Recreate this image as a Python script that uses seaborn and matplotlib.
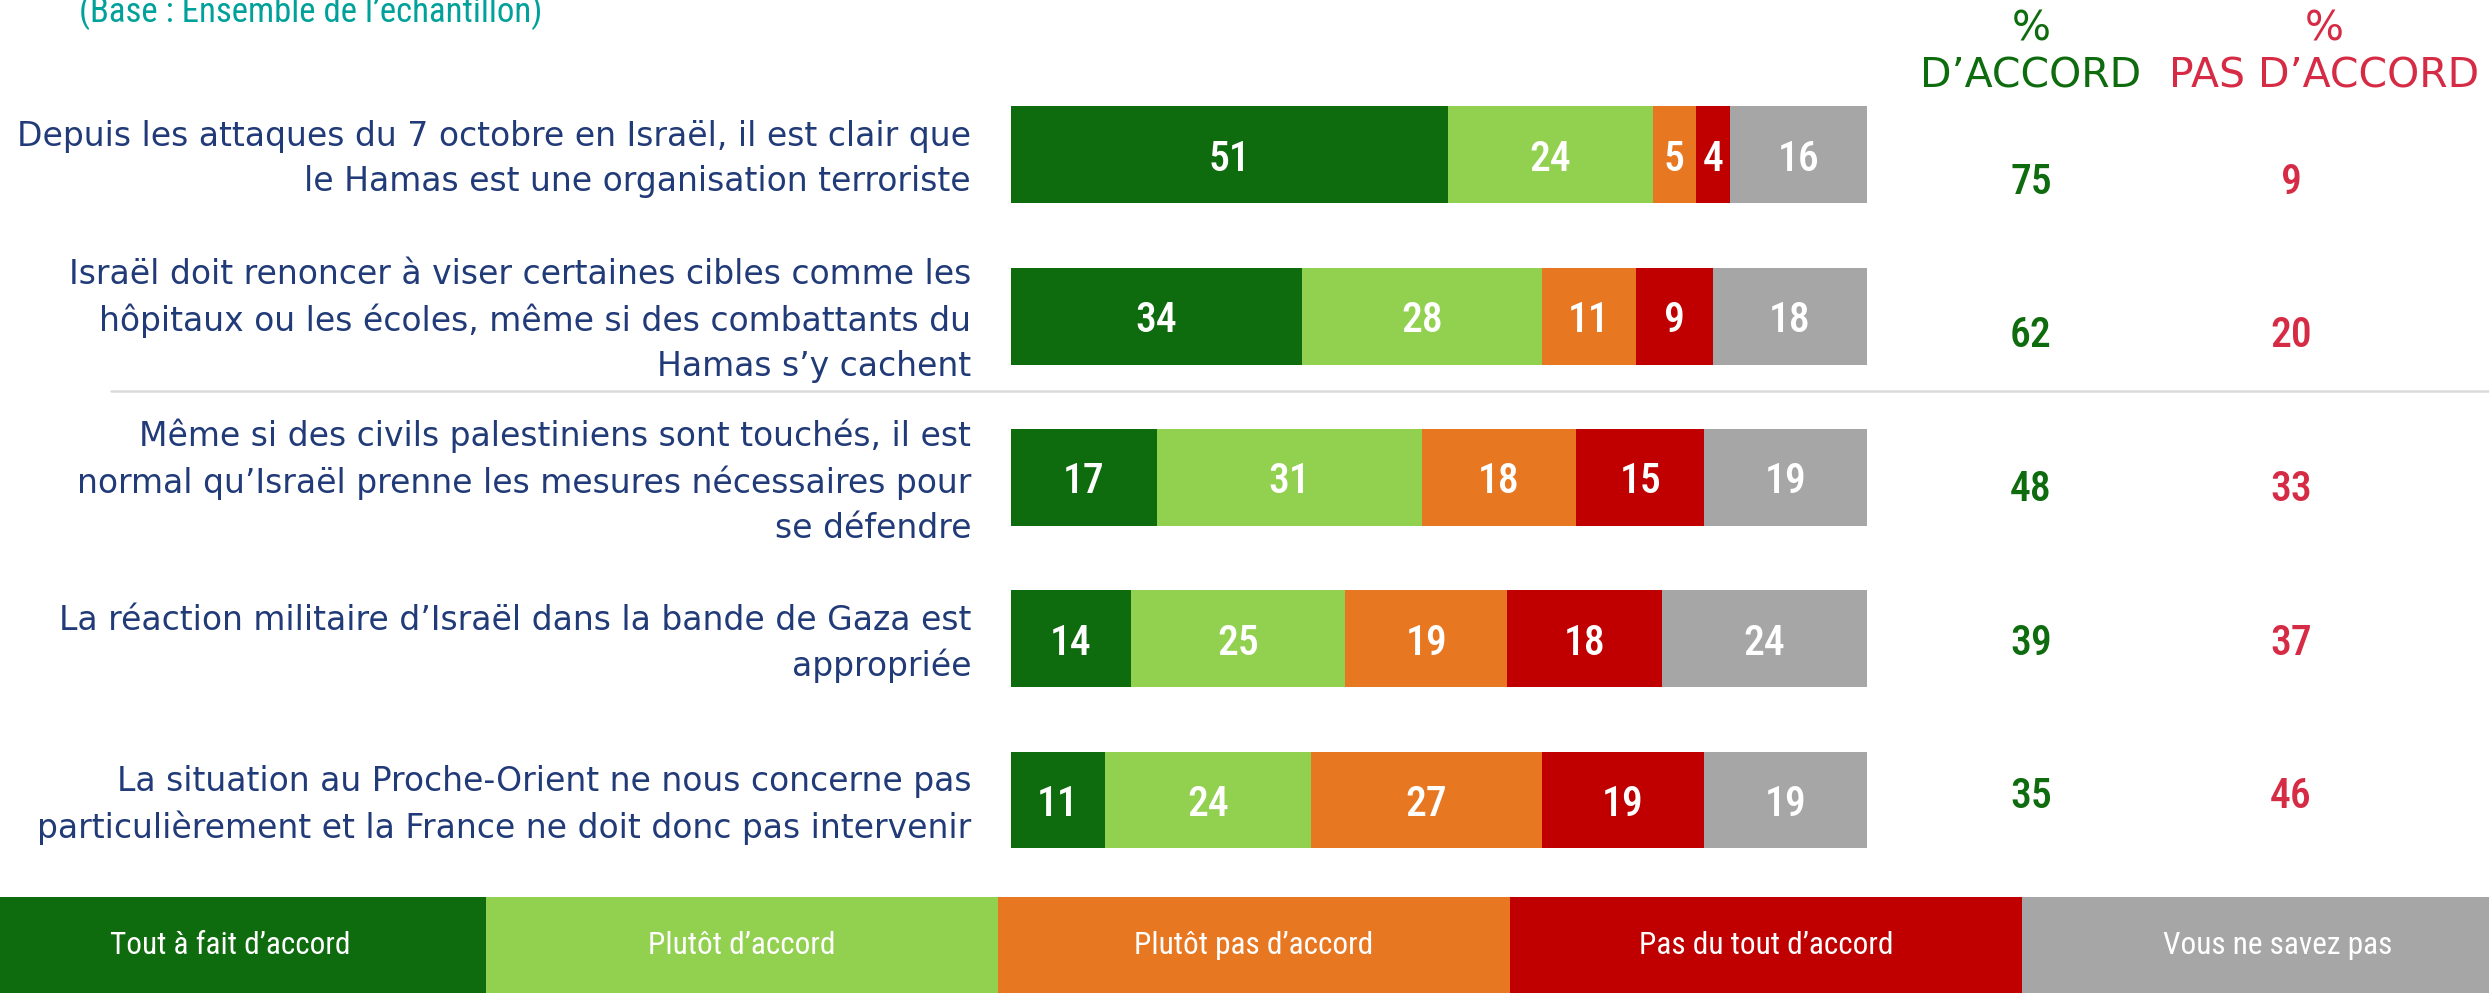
import matplotlib
matplotlib.use("Agg")
import matplotlib.pyplot as plt
import seaborn as sns
import numpy as np
import pandas as pd
from matplotlib.patches import Rectangle
from matplotlib.lines import Line2D
from matplotlib.transforms import ScaledTranslation

# ---------------- data ----------------
statements = [
    "Depuis les attaques du 7 octobre en Israël, il est clair que\nle Hamas est une organisation terroriste",
    "Israël doit renoncer à viser certaines cibles comme les\nhôpitaux ou les écoles, même si des combattants du\nHamas s’y cachent",
    "Même si des civils palestiniens sont touchés, il est\nnormal qu’Israël prenne les mesures nécessaires pour\nse défendre",
    "La réaction militaire d’Israël dans la bande de Gaza est\nappropriée",
    "La situation au Proche-Orient ne nous concerne pas\nparticulièrement et la France ne doit donc pas intervenir",
]
series_names = ["Tout à fait d’accord", "Plutôt d’accord", "Plutôt pas d’accord",
                "Pas du tout d’accord", "Vous ne savez pas"]
tout_a_fait = [51, 34, 17, 14, 11]
plutot = [24, 28, 31, 25, 24]
plutot_pas = [5, 11, 18, 19, 27]
pas_du_tout = [4, 9, 15, 18, 19]
ne_sait_pas = [16, 18, 19, 24, 19]
total_accord = [75, 62, 48, 39, 35]
total_pas_accord = [9, 20, 33, 37, 46]
header_accord = "%\nD’ACCORD"
header_pas = "%\nPAS D’ACCORD"
base_text = "(Base : Ensemble de l’échantillon)"

colors = ["#0E6B0E", "#92D050", "#E87722", "#C00000", "#A6A6A6"]
navy = "#213A78"
green_txt = "#0E6B0E"
red_txt = "#D62B45"

# ---------------- fonts ----------------
sns.set_theme(style="white")
plt.rcParams["font.family"] = ["Roboto Condensed", "DejaVu Sans"]
txt_font = dict(family=["DejaVu Sans"])

W, H = 2489, 993
fig = plt.figure(figsize=(W / 100, H / 100), dpi=100)

# ---------------- stacked bars ----------------
vals = np.array([tout_a_fait, plutot, plutot_pas, pas_du_tout, ne_sait_pas])
cum = np.cumsum(vals, axis=0)

ax = fig.add_axes([1011 / W, 1 - 880.7 / H, 856 / W, 806.5 / H])
for j in reversed(range(len(series_names))):
    sns.barplot(x=cum[j], y=statements, orient="h", color=colors[j], saturation=1,
                width=0.6, ax=ax, linewidth=0, errorbar=None)
for j in range(len(series_names)):
    for i in range(len(statements)):
        ax.text(cum[j][i] - vals[j][i] / 2, i, str(vals[j][i]), ha="center",
                va="center_baseline", color="white", fontsize=30, fontweight="medium")
ax.set_xlim(0, 100)
ax.set_ylim(len(statements) - 0.5, -0.5)
ax.set_xticks([])
ax.set_xlabel("")
ax.set_ylabel("")
ax.set_yticks(range(len(statements)))
ax.set_yticklabels(statements, fontsize=23.8, color=navy, linespacing=1.45, **txt_font)
ax.tick_params(axis="y", length=0, pad=28.8)
shift_up = ScaledTranslation(0, 5 / 100, fig.dpi_scale_trans)
for lbl in ax.get_yticklabels():
    lbl.set_transform(lbl.get_transform() + shift_up)
for s in ax.spines.values():
    s.set_visible(False)
ax.set_facecolor("none")

# ---------------- totals columns ----------------
ax2 = fig.add_axes([1901 / W, 1 - 869 / H, 520 / W, 768 / H])
ax2.set_xlim(-0.5, 1.5)
ax2.set_ylim(len(statements) - 0.5, -0.5)
ax2.axis("off")
for i in range(len(statements)):
    ax2.text(0, i, str(total_accord[i]), ha="center", va="center_baseline", color=green_txt,
             fontsize=30, fontweight="medium")
    ax2.text(1, i, str(total_pas_accord[i]), ha="center", va="center_baseline", color=red_txt,
             fontsize=30, fontweight="medium")

fig.text(2031 / W, 1 - 53 / H, header_accord, ha="center", va="center", color=green_txt,
         fontsize=29.5, linespacing=1.2, **txt_font)
fig.text(2324 / W, 1 - 53 / H, header_pas, ha="center", va="center", color=red_txt,
         fontsize=29.5, linespacing=1.2, **txt_font)

# base text (partly cut at the top edge, as in the original)
fig.text(79 / W, 1 - 22 / H, base_text, ha="left", va="baseline", color="#00A19A",
         fontsize=25)

# separator line
fig.add_artist(Line2D([111 / W, 1], [1 - 391 / H, 1 - 391 / H], color="#DADADA", lw=1.8))

# ---------------- legend band ----------------
box_w = 512
for j, name in enumerate(series_names):
    x0 = -26 + j * box_w
    fig.add_artist(Rectangle((x0 / W, 0), box_w / W, 96 / H, transform=fig.transFigure,
                             facecolor=colors[j], edgecolor="none"))
    fig.text((x0 + box_w / 2) / W, 48 / H, name, ha="center", va="center", color="white",
             fontsize=22.5)

fig.savefig("out.png", dpi=100)
